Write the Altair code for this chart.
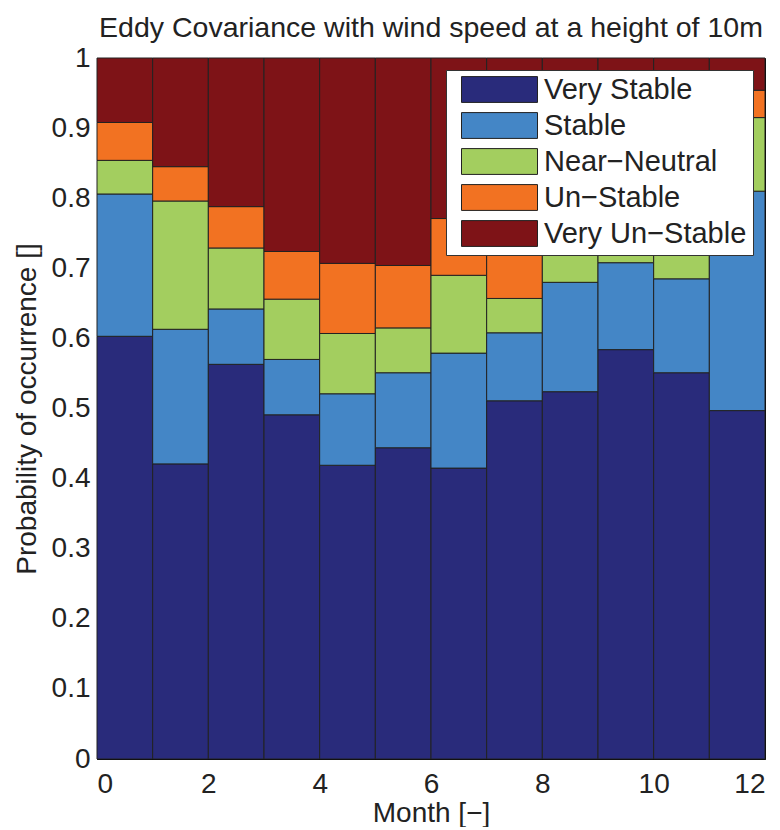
import altair as alt
import pandas as pd

months = list(range(1, 13))
classes = ["Very Stable", "Stable", "Near\u2212Neutral", "Un\u2212Stable", "Very Un\u2212Stable"]
colors = ["#292B7B", "#4486C6", "#A3CE5F", "#F27222", "#7E1317"]

very_stable = [0.603, 0.421, 0.563, 0.491, 0.419, 0.444, 0.415, 0.511, 0.524, 0.584, 0.551, 0.497]
stable = [0.203, 0.192, 0.079, 0.079, 0.102, 0.107, 0.164, 0.097, 0.156, 0.124, 0.134, 0.313]
near_neutral = [0.048, 0.183, 0.087, 0.086, 0.086, 0.064, 0.111, 0.049, 0.080, 0.052, 0.055, 0.105]
un_stable = [0.054, 0.049, 0.059, 0.068, 0.100, 0.089, 0.081, 0.083, 0.080, 0.094, 0.090, 0.039]
very_un_stable = [0.092, 0.155, 0.212, 0.276, 0.293, 0.296, 0.229, 0.260, 0.160, 0.146, 0.170, 0.046]

x_ticks = [0, 2, 4, 6, 8, 10, 12]
y_ticks = [0, 0.1, 0.2, 0.3, 0.4, 0.5, 0.6, 0.7, 0.8, 0.9, 1]

series = [very_stable, stable, near_neutral, un_stable, very_un_stable]
rows = []
for i, m in enumerate(months):
    for k, (c, vals) in enumerate(zip(classes, series)):
        rows.append({"month": m, "cls": c, "order": k, "p": vals[i]})
df = pd.DataFrame(rows)

FONT = "Liberation Sans"
TXT = "#222222"

legend = alt.Legend(
    title=None,
    orient="top-right",
    offset=12,
    fillColor="white",
    strokeColor="#333333",
    padding=6,
    symbolType="M-1,-0.34H1V0.34H-1Z",
    symbolSize=5776,
    symbolStrokeColor="#222222",
    symbolStrokeWidth=1,
    symbolOpacity=1,
    symbolOffset=9,
    labelOffset=6,
    labelFont=FONT,
    labelFontSize=29,
    labelColor=TXT,
    labelLimit=400,
    clipHeight=27,
    rowPadding=6,
)

chart = (
    alt.Chart(df)
    .transform_calculate(m0="datum.month - 1")
    .transform_stack(
        stack="p",
        groupby=["month"],
        as_=["y0", "y1"],
        sort=[alt.SortField(field="order", order="ascending")],
    )
    .mark_bar(stroke="#222222", strokeWidth=1, opacity=1)
    .encode(
        x=alt.X(
            "m0:Q",
            scale=alt.Scale(domain=[0, 12], nice=False, zero=False),
            axis=alt.Axis(values=x_ticks, format="d", title="Month [\u2212]",
                          labelPadding=11, titlePadding=1),
        ),
        x2="month:Q",
        y=alt.Y(
            "y0:Q",
            scale=alt.Scale(domain=[0, 1], nice=False),
            axis=alt.Axis(values=y_ticks, format="~g", title="Probability of occurrence []",
                          labelPadding=7, titlePadding=10),
        ),
        y2="y1:Q",
        color=alt.Color("cls:N", scale=alt.Scale(domain=classes, range=colors),
                        sort=classes, legend=legend),
    )
    .properties(
        width=668,
        height=701,
        title=alt.Title("Eddy Covariance with wind speed at a height of 10m"),
        padding={"left": 5, "top": 5, "right": 0, "bottom": 0},
    )
    .configure_view(stroke="#000000", strokeWidth=1)
    .configure_axis(
        grid=False,
        ticks=False,
        domain=True,
        domainColor="#000000",
        labelFont=FONT,
        labelFontSize=28,
        labelColor=TXT,
        titleFont=FONT,
        titleFontSize=28,
        titleFontWeight="normal",
        titleColor=TXT,
    )
    .configure_title(
        font=FONT,
        fontSize=28.5,
        fontWeight="normal",
        color=TXT,
        anchor="middle",
        offset=2,
    )
)

chart.save("out.html", embed_options={"renderer": "svg", "actions": False})
